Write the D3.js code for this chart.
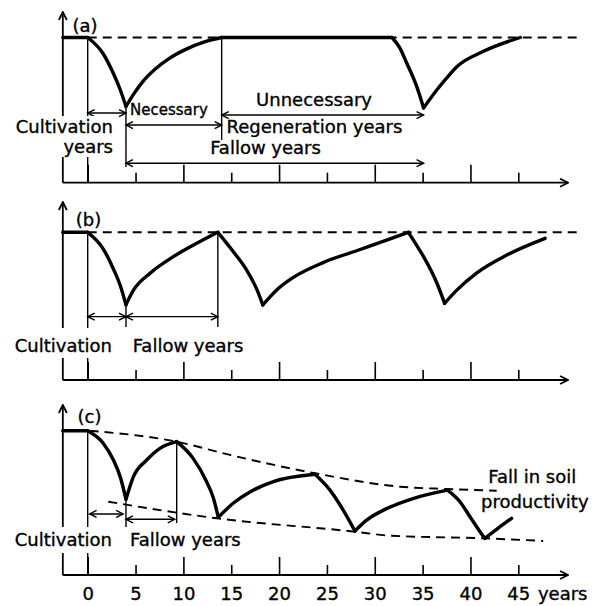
<!DOCTYPE html>
<html>
<head>
<meta charset="utf-8">
<script src="https://cdn.jsdelivr.net/npm/d3@7"></script>
<style>
  body { margin: 0; background: #fff; }
  svg { display: block; font-family: "DejaVu Sans", sans-serif; }
</style>
</head>
<body>
<svg id="chart" width="594" height="606"></svg>
<script>
// time axis
var majorYears = [0, 10, 20, 30, 40];
var minorYears = [5, 15, 25, 35, 45];
var tickLabels = {0: "0", 5: "5", 10: "10", 15: "15", 20: "20", 25: "25", 30: "30", 35: "35", 40: "40", 45: "45"};
var unitLabel = "years";

// productivity curves as [year, level]; level 100 = the dashed "full" line
var curveA = [
  [[-2.6, 100], [0, 100]],
  [[0, 100], [1.6, 89], [2.7, 75], [3.4, 64], [4, 52.5]],
  [[4, 52.5], [4.8, 61], [5.8, 70], [7.0, 78], [8.5, 85.5], [10.3, 92], [12.2, 97], [14, 100]],
  [[14, 100], [31.8, 100]],
  [[31.8, 100], [32.6, 93], [33.3, 83], [34.4, 66], [35.1, 51.5]],
  [[35.1, 51.5], [36.5, 64], [37.5, 72], [38.6, 80], [41.3, 90.3], [45.2, 100]]
];
var curveB = [
  [[-2.6, 100], [0, 100]],
  [[0, 100], [1.6, 89], [2.7, 75], [3.4, 64], [4, 51]],
  [[4, 51], [4.8, 61], [6.5, 72.2], [8.95, 83.5], [11.7, 93.6], [13.6, 100]],
  [[13.6, 100], [15.2, 87], [16.6, 74.5], [17.7, 61], [18.3, 50.8]],
  [[18.3, 50.8], [19.75, 61], [21.5, 69.5], [24.6, 79.5], [28.1, 87.5], [31.6, 95.5], [33.5, 100]],
  [[33.5, 100], [34.3, 92], [35.1, 83.5], [36.5, 65.5], [37.3, 51.9]],
  [[37.3, 51.9], [38.6, 61], [40.6, 72.2], [43.8, 84.6], [47.8, 95.9]]
];
var curveC = [
  [[-2.6, 100], [0, 100]],
  [[0, 100], [1.6, 91.5], [2.7, 79.5], [3.4, 68], [4, 52.5]],
  [[4, 52.5], [4.77, 68], [6.17, 79.7], [7.55, 87.8], [9.3, 92.4]],
  [[9.3, 92.4], [11, 81], [12.4, 65], [13.1, 54], [13.65, 40]],
  [[13.65, 40], [15.2, 49.7], [17, 57.7], [19.4, 64.7], [23.75, 69.8]],
  [[23.75, 69.8], [25.3, 59], [26.7, 45], [27.93, 30.5]],
  [[27.93, 30.5], [29.15, 38], [31.24, 46], [34, 53], [37.6, 58.8]],
  [[37.6, 58.8], [38.9, 50.8], [39.95, 40.4], [41, 30], [41.5, 25.4]],
  [[41.5, 25.4], [42.8, 32], [44.3, 39.3]]
];

// dashed guide lines
var fullLevel = [[0, 100], [51.1, 100]];
var upperTrendC = [[0.2, 100], [9.3, 92.4], [14.87, 83.2], [23.76, 70.5], [32.63, 61.2], [37.5, 59.6], [42.74, 58.4]];
var lowerTrendC = [[2.15, 50.8], [13.48, 39.3], [27.93, 30], [31.5, 27.3], [41.5, 25.4], [47.6, 23.6]];

// vertical markers: [year, from level, to level]
var vlinesA = [[0, 100, 0], [4, 52.5, 10.8], [14, 100, 29.4]];
var vlinesB = [[0, 100, 0], [4, 51, 35.9], [13.6, 100, 35.9]];
var vlinesC = [[0, 100, 0], [4, 52.5, 33.3], [9.3, 92.4, 36]];

// double arrows: [from year, to year, level]
var arrowsA = [[0, 4, 48], [4, 14, 39.7], [14, 35.1, 46.6], [4, 35.1, 13.4]];
var arrowsB = [[0, 4, 42.9], [4, 13.6, 42.9]];
var arrowsC = [[0.2, 3.7, 42.3], [4, 9.1, 38.6]];

var textsA = ["(a)", "Cultivation", "years", "Necessary", "Unnecessary", "Regeneration years", "Fallow years"];
var textsB = ["(b)", "Cultivation", "Fallow years"];
var textsC = ["(c)", "Cultivation", "Fallow years", "Fall in soil", "productivity"];

var svg = d3.select("#chart");
var x = d3.scaleLinear().domain([0, 45]).range([87.7, 518.3]);
var yAxisYear = -2.6, xAxisEnd = 50.2;

var defs = svg.append("defs");
defs.append("marker").attr("id", "arr")
  .attr("viewBox", "-8 -5 10 10").attr("refX", 0).attr("refY", 0)
  .attr("markerWidth", 10).attr("markerHeight", 10)
  .attr("markerUnits", "userSpaceOnUse").attr("orient", "auto-start-reverse")
  .append("path").attr("d", "M-7,-3.5L0,0L-7,3.5")
  .attr("fill", "none").attr("stroke", "#000").attr("stroke-width", 1.4);
defs.append("marker").attr("id", "axarr")
  .attr("viewBox", "-9 -5 10 10").attr("refX", 0).attr("refY", 0)
  .attr("markerWidth", 10).attr("markerHeight", 10)
  .attr("markerUnits", "userSpaceOnUse").attr("orient", "auto")
  .append("path").attr("d", "M-8,-4L0,0L-8,4")
  .attr("fill", "none").attr("stroke", "#000").attr("stroke-width", 1.8);

// layout of the three panels
var panels = [
  {curve: curveA, vlines: vlinesA, arrows: arrowsA, axisY: 182.7, topY: 37.5, tipY: 12, knock: [45.9, 17.7],
   dashed: [fullLevel],
   texts: [
     {t: textsA[0], yr: -0.28, lv: 104, anchor: "middle"},
     {t: textsA[1], yr: 2.64, lv: 34.0, anchor: "end"},
     {t: textsA[2], yr: 2.64, lv: 20.2, anchor: "end"},
     {t: textsA[3], yr: 4.42, lv: 46.6, anchor: "start", size: 15},
     {t: textsA[4], yr: 17.6, lv: 52.8, anchor: "start"},
     {t: textsA[5], yr: 14.5, lv: 34.0, anchor: "start"},
     {t: textsA[6], yr: 12.8, lv: 19.8, anchor: "start"}
   ]},
  {curve: curveB, vlines: vlinesB, arrows: arrowsB, axisY: 380, topY: 232.3, tipY: 202, knock: [35.2, 14.9],
   dashed: [fullLevel],
   texts: [
     {t: textsB[0], yr: 0.08, lv: 104.3, anchor: "middle"},
     {t: textsB[1], yr: 2.54, lv: 19.2, anchor: "end"},
     {t: textsB[2], yr: 4.7, lv: 19.2, anchor: "start"}
   ]},
  {curve: curveC, vlines: vlinesC, arrows: arrowsC, axisY: 575, topY: 430.7, tipY: 405, knock: [33.3, 15.2],
   dashed: [upperTrendC, lowerTrendC], labels: true,
   texts: [
     {t: textsC[0], yr: 0.19, lv: 105.3, anchor: "middle"},
     {t: textsC[1], yr: 2.54, lv: 20.1, anchor: "end"},
     {t: textsC[2], yr: 4.42, lv: 20.1, anchor: "start"},
     {t: textsC[3], yr: 41.86, lv: 63.5, anchor: "start"},
     {t: textsC[4], yr: 41.1, lv: 46.2, anchor: "start"}
   ]}
];

panels.forEach(function(p) {
  var y = d3.scaleLinear().domain([0, 100]).range([p.axisY, p.topY]);
  var g = svg.append("g");

  var line = d3.line()
    .x(d => x(d[0]))
    .y(d => y(d[1]))
    .curve(d3.curveMonotoneX);

  // dashed guides
  p.dashed.forEach(function(d) {
    g.append("path")
      .attr("fill", "none")
      .attr("stroke", "#000")
      .attr("stroke-width", 1.9)
      .attr("stroke-dasharray", "9,6")
      .attr("d", line(d));
  });

  // ticks (pointing up), labels only on the bottom panel
  var fmt = p.labels ? (d => tickLabels[d]) : (() => "");
  [[majorYears, -18], [minorYears, -10]].forEach(function(t) {
    var ax = g.append("g")
      .attr("transform", `translate(0,${p.axisY})`)
      .call(d3.axisBottom(x).tickValues(t[0]).tickSizeInner(t[1]).tickSizeOuter(0).tickPadding(12).tickFormat(fmt));
    ax.select(".domain").remove();
    ax.selectAll(".tick line").attr("stroke", "#000").attr("stroke-width", 1.6);
    ax.selectAll(".tick text")
      .attr("fill", "#000")
      .attr("stroke", "#000")
      .attr("stroke-width", 0.35)
      .style("font-family", "DejaVu Sans, sans-serif")
      .style("font-size", "18px");
  });
  if (p.labels) {
    g.append("text")
      .attr("x", x(47.05))
      .attr("y", p.axisY + 12)
      .attr("dy", "0.71em")
      .attr("font-size", 18)
      .attr("stroke", "#000")
      .attr("stroke-width", 0.35)
      .text(unitLabel);
  }

  // axes with arrow heads
  g.append("line")
    .attr("x1", x(yAxisYear)).attr("y1", p.axisY)
    .attr("x2", x(xAxisEnd)).attr("y2", p.axisY)
    .attr("stroke", "#000").attr("stroke-width", 1.8)
    .attr("marker-end", "url(#axarr)");
  g.append("line")
    .attr("x1", x(yAxisYear)).attr("y1", p.axisY)
    .attr("x2", x(yAxisYear)).attr("y2", p.tipY)
    .attr("stroke", "#000").attr("stroke-width", 1.8)
    .attr("marker-end", "url(#axarr)");

  // vertical markers
  p.vlines.forEach(function(v) {
    g.append("line")
      .attr("x1", x(v[0])).attr("x2", x(v[0]))
      .attr("y1", y(v[1])).attr("y2", y(v[2]))
      .attr("stroke", "#000").attr("stroke-width", 1.4);
  });

  // double arrows
  p.arrows.forEach(function(a) {
    g.append("line")
      .attr("x1", x(a[0])).attr("x2", x(a[1]))
      .attr("y1", y(a[2])).attr("y2", y(a[2]))
      .attr("stroke", "#000").attr("stroke-width", 1.4)
      .attr("marker-start", "url(#arr)")
      .attr("marker-end", "url(#arr)");
  });

  // white gap behind the "Cultivation" label
  g.append("rect")
    .attr("x", 5)
    .attr("y", y(p.knock[0]))
    .attr("width", x(3.2) - 5)
    .attr("height", y(p.knock[1]) - y(p.knock[0]))
    .attr("fill", "#fff");

  p.texts.forEach(function(t) {
    g.append("text")
      .attr("x", x(t.yr))
      .attr("y", y(t.lv))
      .attr("text-anchor", t.anchor)
      .attr("font-size", t.size || 18)
      .attr("fill", "#000")
      .attr("stroke", "#000")
      .attr("stroke-width", 0.35)
      .text(t.t);
  });

  // productivity curve
  p.curve.forEach(function(seg) {
    g.append("path")
      .attr("fill", "none")
      .attr("stroke", "#000")
      .attr("stroke-width", 3.4)
      .attr("stroke-linejoin", "round")
      .attr("stroke-linecap", "round")
      .attr("d", line(seg));
  });
});
</script>
</body>
</html>
